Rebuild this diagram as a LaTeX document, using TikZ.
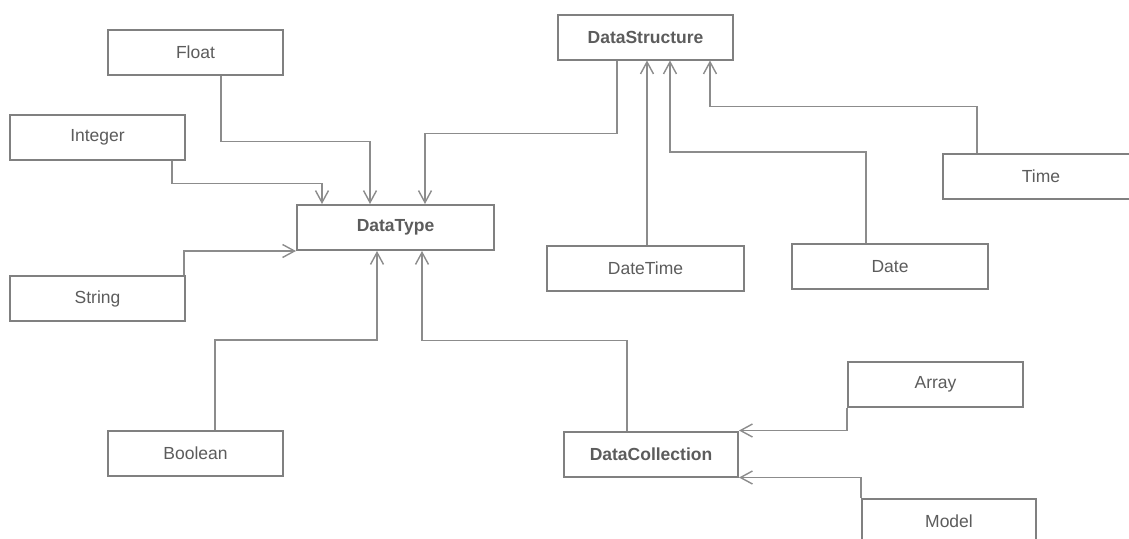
\documentclass[tikz,border=0pt]{standalone}
\usepackage{fontspec}
\setmainfont{Liberation Sans}
\usetikzlibrary{arrows.meta}
\definecolor{boxline}{HTML}{808080}
\definecolor{connline}{HTML}{8C8C8C}
\definecolor{txt}{HTML}{5C5C5C}
\begin{document}
\begin{tikzpicture}[x=1pt,y=-1pt,
  cls/.style={draw=boxline, line width=2pt, fill=white, minimum height=45pt,
    inner sep=0pt, text=txt, font=\fontsize{17.5}{20}\selectfont},
  bcls/.style={cls, font=\fontsize{17.5}{20}\selectfont\bfseries},
  conn/.style={draw=connline, line width=1.4pt,
    -{Straight Barb[length=12pt,width=13pt,line width=1.4pt]}}]
\useasboundingbox[fill=white] (0,0) rectangle (1129,538);
% nodes
\node[cls, minimum width=175pt] (Float) at (195.5,52) {Float};
\node[cls, minimum width=175pt] (Integer) at (97.5,137) {Integer};
\node[cls, minimum width=175pt] (String) at (97.5,298.5) {String};
\node[bcls, minimum width=197pt] (DataType) at (395.5,227.5) {DataType};
\node[cls, minimum width=175pt] (Boolean) at (195.5,453.5) {Boolean};
\node[bcls, minimum width=175pt] (DataStructure) at (645.5,37) {DataStructure};
\node[cls, minimum width=197pt] (DateTime) at (645.5,268) {DateTime};
\node[cls, minimum width=196pt] (Date) at (890,266.5) {Date};
\node[cls, minimum width=196pt] (Time) at (1041,176) {Time};
\node[bcls, minimum width=174pt] (DataCollection) at (651,454) {DataCollection};
\node[cls, minimum width=175pt] (Array) at (935.5,384) {Array};
\node[cls, minimum width=174pt] (Model) at (949,521) {Model};
% connectors to DataType
\draw[conn] ([xshift=25.5pt]Float.south) -- ++(0,66) -| ([xshift=-25.5pt]DataType.north);
\draw[conn] ([xshift=74.5pt]Integer.south) -- ++(0,23) -| ([xshift=-73.5pt]DataType.north);
\draw[conn] ([xshift=-28.5pt]DataStructure.south) -- ++(0,73) -| ([xshift=29.5pt]DataType.north);
\draw[conn] ([xshift=86.5pt]String.north) |- (DataType.south west);
\draw[conn] ([xshift=19.5pt]Boolean.north) -- ++(0,-90) -| ([xshift=-18.5pt]DataType.south);
\draw[conn] ([xshift=-24pt]DataCollection.north) -- ++(0,-90) -| ([xshift=26.5pt]DataType.south);
% connectors to DataStructure
\draw[conn] ([xshift=1.5pt]DateTime.north) -- ([xshift=1.5pt]DataStructure.south);
\draw[conn] ([xshift=-24pt]Date.north) -- ++(0,-91) -| ([xshift=24.5pt]DataStructure.south);
\draw[conn] ([xshift=-64pt]Time.north) -- ++(0,-46) -| ([xshift=64.5pt]DataStructure.south);
% connectors to DataCollection
\draw[conn] (Array.south west) |- (DataCollection.north east);
\draw[conn] (Model.north west) |- (DataCollection.south east);
\end{tikzpicture}
\end{document}
